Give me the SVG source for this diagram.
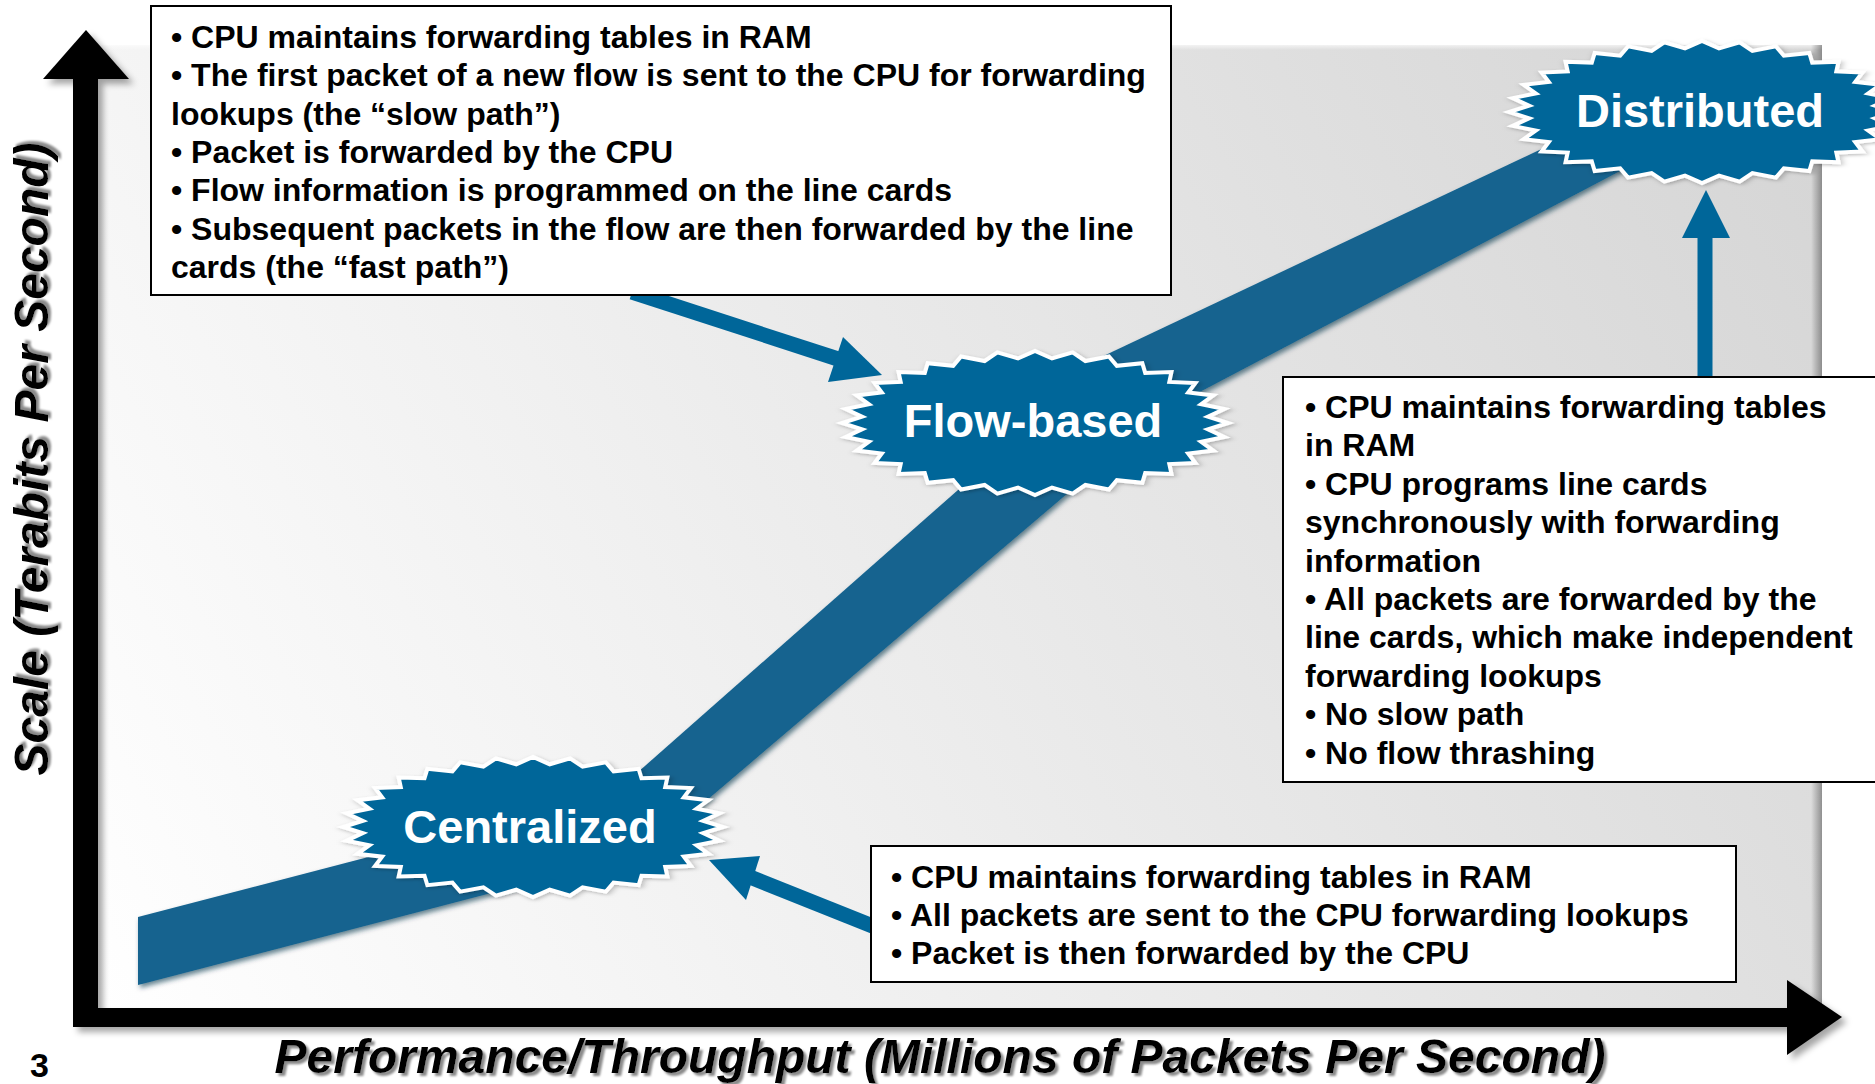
<svg xmlns="http://www.w3.org/2000/svg" xmlns:xlink="http://www.w3.org/1999/xlink" width="1875" height="1084" viewBox="0 0 1875 1084">
<style>
.t{font-family:"Liberation Sans",Arial,sans-serif;font-weight:bold;font-size:32px;fill:#000}
.bl{font-family:"Liberation Sans",Arial,sans-serif;font-weight:bold;font-size:47px;fill:#fff;text-anchor:middle}
.ax{font-family:"Liberation Sans",Arial,sans-serif;font-weight:bold;font-style:italic;font-size:48px;fill:#000;text-anchor:middle;filter:url(#txtShadow)}
.box{fill:#fff;stroke:#000;stroke-width:2}
.burst{fill:#006699;stroke:#fff;stroke-width:4;filter:url(#burstShadow)}
.band{fill:#14638f;filter:url(#bandShadow)}
.ptr{stroke:#006699;stroke-width:15;fill:none}
.ptrh{fill:#006699}
.axis{fill:#000}
</style>
<defs>
<linearGradient id="panelGrad" gradientUnits="userSpaceOnUse" x1="100" y1="1010" x2="1800" y2="45">
<stop offset="0" stop-color="#ffffff"/>
<stop offset="0.45" stop-color="#ececec"/>
<stop offset="1" stop-color="#d5d5d5"/>
</linearGradient>
<linearGradient id="rightEdge" x1="0" y1="0" x2="1" y2="0">
<stop offset="0" stop-color="#000" stop-opacity="0"/>
<stop offset="1" stop-color="#000" stop-opacity="0.35"/>
</linearGradient>
<linearGradient id="topEdge" x1="0" y1="0" x2="0" y2="1">
<stop offset="0" stop-color="#fff" stop-opacity="1"/>
<stop offset="1" stop-color="#fff" stop-opacity="0"/>
</linearGradient>
<filter id="axisShadow" x="-10%" y="-10%" width="130%" height="130%">
<feDropShadow dx="5" dy="5" stdDeviation="3" flood-color="#000" flood-opacity="0.35"/>
</filter>
<filter id="bandShadow" x="-10%" y="-10%" width="130%" height="130%">
<feDropShadow dx="2" dy="3" stdDeviation="2.5" flood-color="#06304a" flood-opacity="0.6"/>
</filter>
<filter id="burstShadow" x="-10%" y="-20%" width="130%" height="150%">
<feDropShadow dx="1" dy="2" stdDeviation="2" flood-color="#000" flood-opacity="0.25"/>
</filter>
<filter id="txtShadow" x="-5%" y="-20%" width="110%" height="150%">
<feDropShadow dx="3" dy="3" stdDeviation="1" flood-color="#8a8a8a" flood-opacity="1"/>
</filter>
<path id="burst" vector-effect="non-scaling-stroke" d="M100,0 L89.6,8.8 L98.1,19.5 L86.1,26.1 L92.4,38.3 L79.4,42.4 L83.1,55.6 L69.6,57.1 L70.7,70.7 L57.1,69.6 L55.6,83.1 L42.4,79.4 L38.3,92.4 L26.1,86.1 L19.5,98.1 L8.8,89.6 L0,100 L-8.8,89.6 L-19.5,98.1 L-26.1,86.1 L-38.3,92.4 L-42.4,79.4 L-55.6,83.1 L-57.1,69.6 L-70.7,70.7 L-69.6,57.1 L-83.1,55.6 L-79.4,42.4 L-92.4,38.3 L-86.1,26.1 L-98.1,19.5 L-89.6,8.8 L-100,0 L-89.6,-8.8 L-98.1,-19.5 L-86.1,-26.1 L-92.4,-38.3 L-79.4,-42.4 L-83.1,-55.6 L-69.6,-57.1 L-70.7,-70.7 L-57.1,-69.6 L-55.6,-83.1 L-42.4,-79.4 L-38.3,-92.4 L-26.1,-86.1 L-19.5,-98.1 L-8.8,-89.6 L0,-100 L8.8,-89.6 L19.5,-98.1 L26.1,-86.1 L38.3,-92.4 L42.4,-79.4 L55.6,-83.1 L57.1,-69.6 L70.7,-70.7 L69.6,-57.1 L83.1,-55.6 L79.4,-42.4 L92.4,-38.3 L86.1,-26.1 L98.1,-19.5 L89.6,-8.8 Z"/>
</defs>

<rect x="0" y="0" width="1875" height="1084" fill="#fff"/>

<g id="panel">
<rect x="85" y="45" width="1737" height="965" fill="url(#panelGrad)"/>
<rect x="85" y="42" width="1737" height="8" fill="url(#topEdge)"/>
<rect x="1811" y="45" width="11" height="965" fill="url(#rightEdge)"/>
</g>

<g id="axes" filter="url(#axisShadow)">
<rect class="axis" x="73" y="74" width="25" height="953"/>
<polygon class="axis" points="86,30 129,79 43,79"/>
<rect class="axis" x="73" y="1008" width="1718" height="19"/>
<polygon class="axis" points="1842,1017 1787,980 1787,1055"/>
</g>

<g id="connectors">
<polygon class="band" points="138,917 560,807 560,875 138,985"/>
<polygon class="band" points="561,840 1026,430 1142,430 660,840"/>
<polygon class="band" points="1040,386 1700,74 1700,129 1040,476"/>
<g id="ptr-flow">
<line class="ptr" x1="632" y1="292" x2="838" y2="359"/>
<polygon class="ptrh" points="882,375 828,382 843,337"/>
</g>
<g id="ptr-central">
<line class="ptr" x1="875" y1="927" x2="750" y2="877"/>
<polygon class="ptrh" points="709,860 746,900 760,856"/>
</g>
<g id="ptr-dist">
<line class="ptr" x1="1705" y1="380" x2="1705" y2="236"/>
<polygon class="ptrh" points="1706,190 1730,238 1682,238"/>
</g>
</g>

<g id="node-centralized">
<use xlink:href="#burst" href="#burst" class="burst" transform="translate(533,827) scale(1.9,0.7)"/>
<text class="bl" x="530" y="843">Centralized</text>
</g>
<g id="node-flow">
<use xlink:href="#burst" href="#burst" class="burst" transform="translate(1035,423) scale(1.93,0.72)"/>
<text class="bl" x="1033" y="437">Flow-based</text>
</g>
<g id="node-distributed">
<use xlink:href="#burst" href="#burst" class="burst" transform="translate(1702,112) scale(1.93,0.71)"/>
<text class="bl" x="1700" y="127">Distributed</text>
</g>

<g id="box-flow">
<rect class="box" x="151" y="6" width="1020" height="289"/>
<text class="t">
<tspan x="171" y="48">• CPU maintains forwarding tables in RAM</tspan>
<tspan x="171" y="86">• The first packet of a new flow is sent to the CPU for forwarding</tspan>
<tspan x="171" y="125">lookups (the “slow path”)</tspan>
<tspan x="171" y="163">• Packet is forwarded by the CPU</tspan>
<tspan x="171" y="201">• Flow information is programmed on the line cards</tspan>
<tspan x="171" y="240">• Subsequent packets in the flow are then forwarded by the line</tspan>
<tspan x="171" y="278">cards (the “fast path”)</tspan>
</text>
</g>

<g id="box-distributed">
<rect class="box" x="1283" y="377" width="600" height="405"/>
<text class="t">
<tspan x="1305" y="418">• CPU maintains forwarding tables</tspan>
<tspan x="1305" y="456">in RAM</tspan>
<tspan x="1305" y="495">• CPU programs line cards</tspan>
<tspan x="1305" y="533">synchronously with forwarding</tspan>
<tspan x="1305" y="572">information</tspan>
<tspan x="1305" y="610">• All packets are forwarded by the</tspan>
<tspan x="1305" y="648">line cards, which make independent</tspan>
<tspan x="1305" y="687">forwarding lookups</tspan>
<tspan x="1305" y="725">• No slow path</tspan>
<tspan x="1305" y="764">• No flow thrashing</tspan>
</text>
</g>

<g id="box-centralized">
<rect class="box" x="871" y="846" width="865" height="136"/>
<text class="t">
<tspan x="891" y="888">• CPU maintains forwarding tables in RAM</tspan>
<tspan x="891" y="926">• All packets are sent to the CPU forwarding lookups</tspan>
<tspan x="891" y="964">• Packet is then forwarded by the CPU</tspan>
</text>
</g>

<g id="labels">
<text class="ax" transform="translate(48,459) rotate(-90)">Scale (Terabits Per Second)</text>
<text class="ax" x="940" y="1073">Performance/Throughput (Millions of Packets Per Second)</text>
<text x="30" y="1077" style="font-family:'Liberation Sans',Arial,sans-serif;font-weight:bold;font-size:34px">3</text>
</g>
</svg>
